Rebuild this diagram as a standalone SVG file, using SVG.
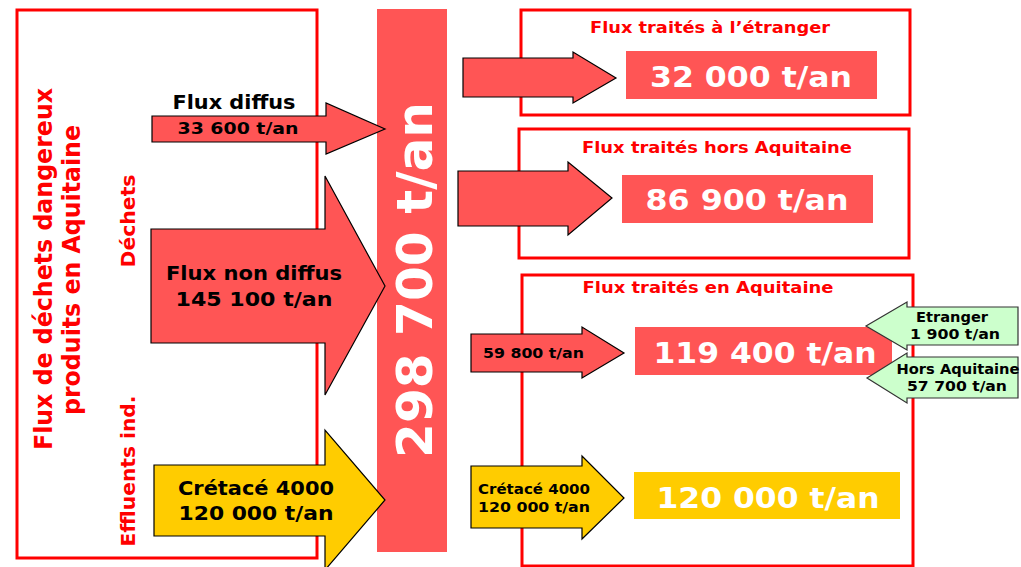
<svg xmlns="http://www.w3.org/2000/svg" width="1021" height="567" viewBox="0 0 1021 567">
<style>
text{font-family:"DejaVu Sans",Verdana,sans-serif;font-weight:bold}
.frame{fill:#fff;stroke:#FF0000;stroke-width:3}
.red{fill:#FF5555}
.yel{fill:#FFCC00}
.arr{stroke:#000;stroke-width:1.2;stroke-linejoin:miter}
.ra{fill:#FF5555}
.ya{fill:#FFCC00}
.ga{fill:#CCFFCC;stroke:#333}
.title{fill:#FF0000}
.white{fill:#fff}
.blk{fill:#000}
.mid{text-anchor:middle}
</style>
<rect width="1021" height="567" fill="#fff"/>
<g id="source-box">
<rect class="frame" x="17" y="10" width="300" height="548"/>
<text class="title mid" transform="translate(52,269) rotate(-90)" font-size="24" textLength="362" lengthAdjust="spacingAndGlyphs">Flux de déchets dangereux</text>
<text class="title mid" transform="translate(80,270) rotate(-90)" font-size="24" textLength="290" lengthAdjust="spacingAndGlyphs">produits en Aquitaine</text>
<text class="title mid" transform="translate(135,221) rotate(-90)" font-size="20" textLength="93" lengthAdjust="spacingAndGlyphs">Déchets</text>
<text class="title mid" transform="translate(135,471) rotate(-90)" font-size="20" textLength="151" lengthAdjust="spacingAndGlyphs">Effluents ind.</text>
</g>
<g id="etranger-box">
<rect class="frame" x="521" y="10" width="389" height="105"/>
<text class="title mid" x="710" y="33" font-size="16" textLength="240" lengthAdjust="spacingAndGlyphs">Flux traités à l’étranger</text>
</g>
<g id="hors-box">
<rect class="frame" x="519" y="129" width="390" height="129"/>
<text class="title mid" x="717" y="153" font-size="16" textLength="270" lengthAdjust="spacingAndGlyphs">Flux traités hors Aquitaine</text>
</g>
<g id="aquitaine-box">
<rect class="frame" x="522" y="275" width="391" height="291"/>
<text class="title mid" x="708" y="293" font-size="16" textLength="251" lengthAdjust="spacingAndGlyphs">Flux traités en Aquitaine</text>
</g>
<g id="total">
<rect class="red" x="377" y="9" width="70" height="543"/>
<text class="white mid" transform="translate(432,280) rotate(-90)" font-size="50" textLength="356" lengthAdjust="spacingAndGlyphs">298 700 t/an</text>
</g>
<g id="val-etranger">
<rect class="red" x="626" y="51" width="251" height="48"/>
<text class="white mid" x="751" y="87" font-size="29" textLength="202" lengthAdjust="spacingAndGlyphs">32 000 t/an</text>
</g>
<g id="val-hors">
<rect class="red" x="622" y="175" width="251" height="48"/>
<text class="white mid" x="747" y="210" font-size="29" textLength="203" lengthAdjust="spacingAndGlyphs">86 900 t/an</text>
</g>
<g id="val-aquitaine">
<rect class="red" x="635" y="327" width="257" height="48"/>
<text class="white mid" x="765" y="363" font-size="29" textLength="223" lengthAdjust="spacingAndGlyphs">119 400 t/an</text>
</g>
<g id="val-cretace">
<rect class="yel" x="634" y="472" width="266" height="47"/>
<text class="white mid" x="768" y="508" font-size="29" textLength="223" lengthAdjust="spacingAndGlyphs">120 000 t/an</text>
</g>
<g id="connectors">
<path class="arr ra" d="M152,116 H326 V103 L385,129 L326,154 V142 H152 Z"/>
<text class="blk mid" x="234" y="109" font-size="19" textLength="123" lengthAdjust="spacingAndGlyphs">Flux diffus</text>
<text class="blk mid" x="238" y="134" font-size="15" textLength="121" lengthAdjust="spacingAndGlyphs">33 600 t/an</text>
<path class="arr ra" d="M151,229 H325 V176 L385,286 L325,395 V343 H151 Z"/>
<text class="blk mid" x="254" y="280" font-size="19" textLength="176" lengthAdjust="spacingAndGlyphs">Flux non diffus</text>
<text class="blk mid" x="254" y="306" font-size="19" textLength="157" lengthAdjust="spacingAndGlyphs">145 100 t/an</text>
<path class="arr ya" d="M154,465 H325 V430 L385,500 L325,570 V536 H154 Z"/>
<text class="blk mid" x="256" y="495" font-size="19" textLength="156" lengthAdjust="spacingAndGlyphs">Crétacé 4000</text>
<text class="blk mid" x="256" y="520" font-size="19" textLength="155" lengthAdjust="spacingAndGlyphs">120 000 t/an</text>
<path class="arr ra" d="M463,58 H573 V52 L616,78 L573,103 V97 H463 Z"/>
<path class="arr ra" d="M458,171 H568 V162 L612,198 L568,235 V226 H458 Z"/>
<path class="arr ra" d="M471,334 H582 V327 L624,353 L582,378 V372 H471 Z"/>
<text class="blk" x="483" y="358" font-size="14" textLength="101" lengthAdjust="spacingAndGlyphs">59 800 t/an</text>
<path class="arr ya" d="M471,466 H582 V456 L624,498 L582,539 V528 H471 Z"/>
<text class="blk" x="478" y="494" font-size="14" textLength="112" lengthAdjust="spacingAndGlyphs">Crétacé 4000</text>
<text class="blk" x="478" y="512" font-size="14" textLength="112" lengthAdjust="spacingAndGlyphs">120 000 t/an</text>
<path class="arr ga" d="M1018,307 H907 V302 L866,326 L907,350 V345 H1018 Z"/>
<text class="blk mid" x="952" y="322" font-size="14" textLength="72" lengthAdjust="spacingAndGlyphs">Etranger</text>
<text class="blk mid" x="955" y="339" font-size="14" textLength="90" lengthAdjust="spacingAndGlyphs">1 900 t/an</text>
<path class="arr ga" d="M1018,357 H907 V353 L867,378 L907,403 V398 H1018 Z"/>
<text class="blk mid" x="958" y="374" font-size="14" textLength="123" lengthAdjust="spacingAndGlyphs">Hors Aquitaine</text>
<text class="blk mid" x="957" y="391" font-size="14" textLength="100" lengthAdjust="spacingAndGlyphs">57 700 t/an</text>
</g>
</svg>
